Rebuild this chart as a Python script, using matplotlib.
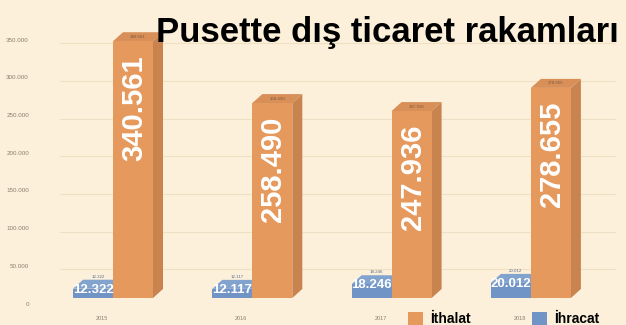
import matplotlib
matplotlib.use("Agg")
import matplotlib.pyplot as plt
from matplotlib.patches import Polygon, Patch
import matplotlib.transforms as mtransforms

years = ["2015", "2016", "2017", "2018"]
ithalat = [340561, 258490, 247936, 278655]
ihracat = [12322, 12117, 18246, 20012]
ithalat_labels = ["340.561", "258.490", "247.936", "278.655"]
ihracat_labels = ["12.322", "12.117", "18.246", "20.012"]
yticks = [0, 50000, 100000, 150000, 200000, 250000, 300000, 350000]
ytick_labels = ["0", "50.000", "100.000", "150.000", "200.000", "250.000", "300.000", "350.000"]
title = "Pusette dış ticaret rakamları"

BG = "#FCF0DA"
OR_FRONT, OR_SIDE, OR_TOP = "#E6995D", "#C8834F", "#D98F58"
BL_FRONT, BL_TOP = "#6F94C5", "#82A3CE"
FAM = ["Liberation Sans", "DejaVu Sans"]

W, H = 626, 325
fig = plt.figure(figsize=(W / 100, H / 100), dpi=100, facecolor=BG)
base_px = 27
ax = fig.add_axes([0, base_px / H, 1, (H - base_px) / H])
ax.set_facecolor(BG)
ax.axis("off")
px_per_unit = 139.3
x0_px = 113
ax.set_xlim(-x0_px / px_per_unit, (W - x0_px) / px_per_unit)
ymax = (H - base_px) / 37.7 * 50000
ax.set_ylim(0, ymax)

bw = 40 / px_per_unit
ddx = 10 / px_per_unit
ddy = 9 / 37.7 * 50000

# gridlines and tick labels (offset slightly down like the 3D reference)
off = mtransforms.ScaledTranslation(0, -6 / 100, fig.dpi_scale_trans)
goff = mtransforms.ScaledTranslation(0, -9 / 100, fig.dpi_scale_trans)
for v, lab in zip(yticks, ytick_labels):
    if v > 0:
        ax.plot([60 / W, 615 / W], [v, v], transform=ax.get_yaxis_transform() + goff,
                color="#EFE0C5", lw=0.8, zorder=0)
    ax.text(29 / W, v, lab, transform=ax.get_yaxis_transform() + off,
            ha="right", va="center", fontsize=4.5, color="#8A8070", family=FAM)


def box(x, w, v, front, side, top, draw_side=True, z=2):
    if draw_side:
        ax.add_patch(Polygon([(x + w, 0), (x + w + ddx, ddy), (x + w + ddx, v + ddy), (x + w, v)],
                             closed=True, facecolor=side, edgecolor="none", zorder=z))
    ax.add_patch(Polygon([(x, v), (x + w, v), (x + w + ddx, v + ddy), (x + ddx, v + ddy)],
                         closed=True, facecolor=top, edgecolor="none", zorder=z))
    ax.bar([x], [v], width=w, align="edge", color=front, edgecolor="none", zorder=z + 0.5)


for i, yr in enumerate(years):
    box(i - bw, bw, ihracat[i], BL_FRONT, BL_FRONT, BL_TOP, draw_side=False, z=2)
    box(i, bw, ithalat[i], OR_FRONT, OR_SIDE, OR_TOP, draw_side=True, z=3)
    # small labels on top faces
    ax.text(i + bw / 2 + ddx / 2, ithalat[i] + ddy / 2, ithalat_labels[i], ha="center", va="center",
            fontsize=3.2, color="#7A5A40", family=FAM, zorder=5)
    ax.annotate(ihracat_labels[i], (i - bw / 2 + ddx / 2, ihracat[i] + ddy), xytext=(0, 3),
                textcoords="offset pixels", ha="center", va="center",
                fontsize=3.2, color="#5A6E8A", family=FAM, zorder=5)
    # big labels
    ax.annotate(ithalat_labels[i], (i + bw / 2, ithalat[i]), xytext=(1, -14), textcoords="offset pixels",
                rotation=90, ha="center", va="top", fontsize=21, fontweight="bold", color="white",
                family=FAM, zorder=6)
    ax.annotate(ihracat_labels[i], (i - bw / 2, ihracat[i]), xytext=(0, -1), textcoords="offset pixels",
                ha="center", va="center", fontsize=9.5, fontweight="bold", color="white",
                family=FAM, zorder=6)
    ax.annotate(yr, (i, 0), xytext=(-11, -20), textcoords="offset pixels", ha="center", va="center",
                fontsize=4, color="#8A8070", family=FAM)

fig.text(387 / W, (H - 42) / H, title, ha="center", va="baseline", fontsize=25,
         fontweight="bold", color="black", family=FAM)

handles = [Patch(facecolor=OR_FRONT, edgecolor="none", label="İthalat"),
           Patch(facecolor=BL_FRONT, edgecolor="none", label="İhracat")]
fig.legend(handles=handles, loc="lower left", bbox_to_anchor=(398 / W, -11 / H), ncol=2,
           frameon=False, prop={"family": FAM, "weight": "bold", "size": 10},
           handlelength=1.1, handleheight=1.1, handletextpad=0.5, columnspacing=4.4,
           borderpad=0.2)

fig.savefig("out.png", dpi=100, facecolor=BG)
